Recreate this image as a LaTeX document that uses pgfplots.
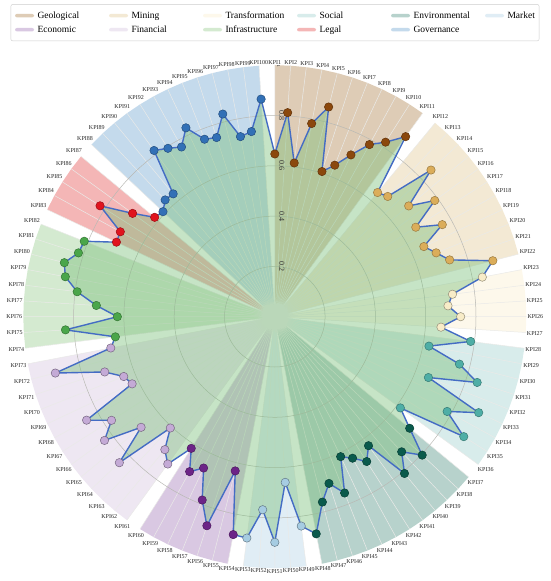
\documentclass[border=0pt]{standalone}
\usepackage{fontspec}
\setmainfont{Liberation Serif}
\usepackage{pgfplots}
\usepackage{pgfplotstable}
\usepgfplotslibrary{polar}
\pgfplotsset{compat=1.18}

\definecolor{geoW}{RGB}{222,204,182}
\definecolor{minW}{RGB}{243,233,212}
\definecolor{traW}{RGB}{253,248,235}
\definecolor{socW}{RGB}{216,236,235}
\definecolor{envW}{RGB}{183,210,204}
\definecolor{marW}{RGB}{224,237,245}
\definecolor{ecoW}{RGB}{217,200,226}
\definecolor{finW}{RGB}{238,231,242}
\definecolor{infW}{RGB}{212,234,208}
\definecolor{legW}{RGB}{244,182,182}
\definecolor{govW}{RGB}{196,218,236}

\definecolor{geoM}{RGB}{139,72,13}
\definecolor{minM}{RGB}{219,173,90}
\definecolor{traM}{RGB}{248,236,200}
\definecolor{socM}{RGB}{78,174,166}
\definecolor{envM}{RGB}{10,90,76}
\definecolor{marM}{RGB}{166,204,226}
\definecolor{ecoM}{RGB}{108,36,135}
\definecolor{finM}{RGB}{196,170,214}
\definecolor{infM}{RGB}{74,166,74}
\definecolor{legM}{RGB}{224,20,30}
\definecolor{govM}{RGB}{50,112,182}

\definecolor{lineC}{RGB}{68,108,196}
\definecolor{polyC}{RGB}{120,190,120}
\definecolor{radC}{RGB}{234,234,232}
\definecolor{ringC}{RGB}{185,185,180}

\newcommand{\ang}{mod(450-(\thisrow{k}-1)*3.6,360)}

\pgfplotstableread{
k r g
1 0.647 geo
2 0.813 geo
3 0.616 geo
4 0.782 geo
5 0.861 geo
6 0.607 geo
7 0.648 geo
8 0.711 geo
9 0.781 geo
10 0.822 geo
11 0.885 geo
12 0.641 mining
13 0.656 mining
14 0.852 mining
15 0.691 mining
16 0.786 mining
17 0.664 mining
18 0.760 mining
19 0.655 mining
20 0.690 mining
21 0.731 mining
22 0.895 mining
23 0.840 trans
24 0.712 trans
25 0.690 trans
26 0.739 trans
27 0.662 trans
28 0.785 social
29 0.624 social
30 0.758 social
31 0.846 social
32 0.657 social
33 0.896 social
34 0.782 social
35 0.890 social
36 0.617 social
37 0.696 env
38 0.804 env
39 0.737 env
40 0.809 env
41 0.634 env
42 0.682 env
43 0.642 env
44 0.615 env
45 0.754 env
46 0.697 env
47 0.761 env
48 0.879 env
49 0.839 market
50 0.660 market
51 0.897 market
52 0.769 market
53 0.887 market
54 0.882 econ
55 0.633 econ
56 0.874 econ
57 0.784 econ
58 0.665 econ
59 0.703 econ
60 0.620 econ
61 0.724 fin
62 0.686 fin
63 0.607 fin
64 0.848 fin
65 0.690 fin
66 0.837 fin
67 0.769 fin
68 0.854 fin
69 0.627 fin
70 0.646 fin
71 0.711 fin
72 0.901 fin
73 0.664 fin
74 0.639 infra
75 0.834 infra
76 0.626 infra
77 0.711 infra
78 0.792 infra
79 0.848 infra
80 0.864 infra
81 0.821 infra
82 0.815 infra
83 0.696 legal
84 0.701 legal
85 0.823 legal
86 0.699 legal
87 0.620 legal
88 0.610 gov
89 0.637 gov
90 0.634 gov
91 0.817 gov
92 0.793 gov
93 0.770 gov
94 0.830 gov
95 0.759 gov
96 0.749 gov
97 0.832 gov
98 0.729 gov
99 0.742 gov
100 0.867 gov
}\kpidata

\begin{document}
\begin{tikzpicture}
\begin{polaraxis}[
  at={(274.8pt,-316.7pt)}, anchor=center,
  width=503pt, height=503pt, scale only axis,
  xmin=0, xmax=360, ymin=0, ymax=1,
  xtick={0,3.6,...,356.5},
  xticklabel={\pgfmathtruncatemacro{\kk}{mod(125-\ticknum,100)+1}KPI\kk},
  xticklabel style={font=\fontsize{6}{7}\selectfont, inner sep=1pt, text=black!85},
  ytick={0.2,0.4,0.6,0.8},
  yticklabels={},
  tick style={draw=none},
  grid=major,
  x grid style={draw=radC, line width=0.5pt},
  y grid style={draw=ringC, line width=0.5pt},
  axis line style={draw=none},
  set layers,
  legend columns=6,
  legend cell align=left,
  legend image code/.code={\fill[#1] (0pt,-1.75pt) rectangle (19pt,1.75pt);},
  legend style={at={(-0.0252,1.1213)}, anchor=north west,
    font=\fontsize{9.5}{11.4}\selectfont, draw=black!20, rounded corners=2pt,
    inner xsep=4.2pt, inner ysep=6.5pt, column sep=0pt, row sep=4.6pt,
    nodes={inner sep=0pt}},
  wedge/.style={draw=none, on layer=axis background},
]
\addplot[wedge, fill=geoW] table[row sep=\\, x expr=\ang, y=r] {k r\\ 1 1\\ 2 1\\ 3 1\\ 4 1\\ 5 1\\ 6 1\\ 7 1\\ 8 1\\ 9 1\\ 10 1\\ 11 1\\} -- (axis cs:0,0) -- cycle;
\addlegendentry{\makebox[75pt][l]{\hspace{3.5pt}Geological\strut}}
\addplot[wedge, fill=minW] table[row sep=\\, x expr=\ang, y=r] {k r\\ 12 1\\ 13 1\\ 14 1\\ 15 1\\ 16 1\\ 17 1\\ 18 1\\ 19 1\\ 20 1\\ 21 1\\ 22 1\\} -- (axis cs:0,0) -- cycle;
\addlegendentry{\makebox[75pt][l]{\hspace{3.5pt}Mining\strut}}
\addplot[wedge, fill=traW] table[row sep=\\, x expr=\ang, y=r] {k r\\ 23 1\\ 24 1\\ 25 1\\ 26 1\\ 27 1\\} -- (axis cs:0,0) -- cycle;
\addlegendentry{\makebox[75pt][l]{\hspace{3.5pt}Transformation\strut}}
\addplot[wedge, fill=socW] table[row sep=\\, x expr=\ang, y=r] {k r\\ 28 1\\ 29 1\\ 30 1\\ 31 1\\ 32 1\\ 33 1\\ 34 1\\ 35 1\\ 36 1\\} -- (axis cs:0,0) -- cycle;
\addlegendentry{\makebox[75pt][l]{\hspace{3.5pt}Social\strut}}
\addplot[wedge, fill=envW] table[row sep=\\, x expr=\ang, y=r] {k r\\ 37 1\\ 38 1\\ 39 1\\ 40 1\\ 41 1\\ 42 1\\ 43 1\\ 44 1\\ 45 1\\ 46 1\\ 47 1\\ 48 1\\} -- (axis cs:0,0) -- cycle;
\addlegendentry{\makebox[75pt][l]{\hspace{3.5pt}Environmental\strut}}
\addplot[wedge, fill=marW] table[row sep=\\, x expr=\ang, y=r] {k r\\ 49 1\\ 50 1\\ 51 1\\ 52 1\\ 53 1\\} -- (axis cs:0,0) -- cycle;
\addlegendentry{\hspace{3.5pt}Market\strut}
\addplot[wedge, fill=ecoW] table[row sep=\\, x expr=\ang, y=r] {k r\\ 54 1\\ 55 1\\ 56 1\\ 57 1\\ 58 1\\ 59 1\\ 60 1\\} -- (axis cs:0,0) -- cycle;
\addlegendentry{\makebox[75pt][l]{\hspace{3.5pt}Economic\strut}}
\addplot[wedge, fill=finW] table[row sep=\\, x expr=\ang, y=r] {k r\\ 61 1\\ 62 1\\ 63 1\\ 64 1\\ 65 1\\ 66 1\\ 67 1\\ 68 1\\ 69 1\\ 70 1\\ 71 1\\ 72 1\\ 73 1\\} -- (axis cs:0,0) -- cycle;
\addlegendentry{\makebox[75pt][l]{\hspace{3.5pt}Financial\strut}}
\addplot[wedge, fill=infW] table[row sep=\\, x expr=\ang, y=r] {k r\\ 74 1\\ 75 1\\ 76 1\\ 77 1\\ 78 1\\ 79 1\\ 80 1\\ 81 1\\ 82 1\\} -- (axis cs:0,0) -- cycle;
\addlegendentry{\makebox[75pt][l]{\hspace{3.5pt}Infrastructure\strut}}
\addplot[wedge, fill=legW] table[row sep=\\, x expr=\ang, y=r] {k r\\ 83 1\\ 84 1\\ 85 1\\ 86 1\\ 87 1\\} -- (axis cs:0,0) -- cycle;
\addlegendentry{\makebox[75pt][l]{\hspace{3.5pt}Legal\strut}}
\addplot[wedge, fill=govW] table[row sep=\\, x expr=\ang, y=r] {k r\\ 88 1\\ 89 1\\ 90 1\\ 91 1\\ 92 1\\ 93 1\\ 94 1\\ 95 1\\ 96 1\\ 97 1\\ 98 1\\ 99 1\\ 100 1\\} -- (axis cs:0,0) -- cycle;
\addlegendentry{\makebox[75pt][l]{\hspace{3.5pt}Governance\strut}}

\addplot[forget plot, mark=none, draw=lineC, line width=1.4pt, fill=polyC, fill opacity=0.42, draw opacity=1, line join=round]
  table[x expr=\ang, y=r] \kpidata -- cycle;

\node[font=\fontsize{8}{9}\selectfont, rotate=-90, text=black!80, inner sep=0pt] at ([xshift=7pt]axis cs:90,0.2) {0.2};
\node[font=\fontsize{8}{9}\selectfont, rotate=-90, text=black!80, inner sep=0pt] at ([xshift=7pt]axis cs:90,0.4) {0.4};
\node[font=\fontsize{8}{9}\selectfont, rotate=-90, text=black!80, inner sep=0pt] at ([xshift=7pt]axis cs:90,0.6) {0.6};
\node[font=\fontsize{8}{9}\selectfont, rotate=-90, text=black!80, inner sep=0pt] at ([xshift=7pt]axis cs:90,0.8) {0.8};
\node[font=\fontsize{8}{9}\selectfont, rotate=-90, text=black!80, inner sep=0pt] at ([xshift=5pt]axis cs:90,1) {1};

\addplot[forget plot, scatter, only marks, mark=*, mark size=4.2pt,
  scatter src=explicit symbolic,
  mark options={line width=0.5pt},
  scatter/classes={
    geo={mark=*, fill=geoM, draw=geoM!70!black},
    mining={mark=*, fill=minM, draw=minM!70!black},
    trans={mark=*, fill=traM, draw=traM!60!black},
    social={mark=*, fill=socM, draw=socM!70!black},
    env={mark=*, fill=envM, draw=envM!70!black},
    market={mark=*, fill=marM, draw=marM!60!black},
    econ={mark=*, fill=ecoM, draw=ecoM!70!black},
    fin={mark=*, fill=finM, draw=finM!60!black},
    infra={mark=*, fill=infM, draw=infM!70!black},
    legal={mark=*, fill=legM, draw=legM!70!black},
    gov={mark=*, fill=govM, draw=govM!70!black}}]
  table[x expr=\ang, y=r, meta=g] \kpidata;
\end{polaraxis}
\pgfresetboundingbox
\path[use as bounding box] (0,0) rectangle (550pt,-581pt);
\end{tikzpicture}
\end{document}
